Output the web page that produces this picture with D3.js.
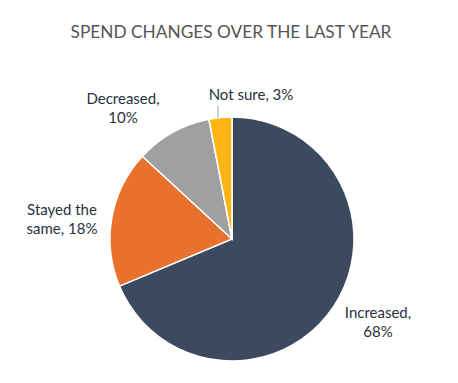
<!DOCTYPE html>
<html>
<head>
  <meta charset="UTF-8">
  <script src="https://d3js.org/d3.v7.min.js"></script>
  <style>
    body { margin: 0; background: #fff; }
  </style>
</head>
<body>
  <svg></svg>
<script>
  let width = 458,
    height = 383;

  // data
  const categories = ["Increased", "Stayed the same", "Decreased", "Not sure"];
  const values = [68, 18, 10, 3];
  const colors = ["#3b4a5f", "#e8712d", "#a0a0a0", "#fdb515"];
  const labelLines = [["Increased,", "68%"], ["Stayed the", "same, 18%"], ["Decreased,", "10%"], ["Not sure, 3%"]];
  const labelPos = [[378, 318], [62, 215], [123, 104], [251, 100]];

  let svg = d3.select("svg")
    .attr("width", width)
    .attr("height", height);

  svg.append("text")
    .attr("x", 231)
    .attr("y", 38)
    .attr("text-anchor", "middle")
    .style("font-family", "Lato")
    .style("font-size", "17.3px")
    .style("fill", "#555")
    .text("SPEND CHANGES OVER THE LAST YEAR");

  let cx = 232, cy = 239, r = 122;

  let pie = d3.pie().sort(null).value(d => d);
  let arc = d3.arc().innerRadius(0).outerRadius(r);

  let g = svg.append("g").attr("transform", "translate(" + cx + "," + cy + ")");

  g.selectAll("path")
    .data(pie(values))
    .enter()
    .append("path")
    .attr("d", arc)
    .attr("fill", (d, i) => colors[i])
    .attr("stroke", "#fff")
    .attr("stroke-width", 1.5);

  // leader line for the small slice
  svg.append("line")
    .attr("x1", 218).attr("y1", 106)
    .attr("x2", 218).attr("y2", 118)
    .attr("stroke", "#999")
    .attr("stroke-width", 1);

  let labels = svg.append("g")
    .selectAll("text")
    .data(labelLines)
    .enter()
    .append("text")
    .attr("text-anchor", "middle")
    .style("font-family", "Lato")
    .style("font-size", "15px")
    .style("fill", "#2b3140");

  labels.each(function(lines, i) {
    d3.select(this).selectAll("tspan")
      .data(lines)
      .enter()
      .append("tspan")
      .attr("x", labelPos[i][0])
      .attr("y", (l, j) => labelPos[i][1] + j * 19)
      .text(l => l);
  });
</script>
</body>
</html>
